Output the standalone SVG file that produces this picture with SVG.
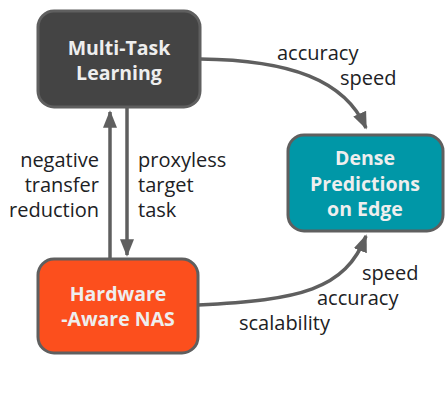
<svg xmlns="http://www.w3.org/2000/svg" width="445" height="402" viewBox="0 0 445 402">
<defs>
<marker id="ah" viewBox="0 0 10 10" refX="9" refY="5" markerWidth="5" markerHeight="5" markerUnits="strokeWidth" orient="auto">
<path d="M0,1 L10,5 L0,9 z" fill="#5f5f5f"/>
</marker>
<style>
.node{stroke:#5f5f5f;stroke-width:3}
.nt{font-family:"Open Sans","Liberation Sans",sans-serif;font-weight:bold;font-size:19.5px;fill:#eeeeee;text-anchor:middle}
.lb{font-family:"Open Sans","Liberation Sans",sans-serif;font-size:20px;fill:#202124}
.edge{fill:none;stroke:#5f5f5f;stroke-width:3.5;marker-end:url(#ah)}
</style>
</defs>
<rect width="445" height="402" fill="#ffffff"/>
<g id="connectors">
<path class="edge" d="M200,59 C290,60 345,80 366,128"/>
<path class="edge" d="M198,305 C300,300 345,290 366,236"/>
<path class="edge" d="M110,258 L110,112"/>
<path class="edge" d="M127,108 L127,255"/>
</g>
<g id="multitask">
<rect class="node" x="38" y="11" width="162" height="96" rx="16" fill="#444444"/>
<text class="nt" x="119" y="55">Multi-Task</text>
<text class="nt" x="119" y="80">Learning</text>
</g>
<g id="dense">
<rect class="node" x="288" y="135" width="155" height="96" rx="16" fill="#0097a7"/>
<text class="nt" x="365" y="165">Dense</text>
<text class="nt" x="365" y="191">Predictions</text>
<text class="nt" x="365" y="216">on Edge</text>
</g>
<g id="hardware">
<rect class="node" x="38" y="259" width="160" height="94" rx="16" fill="#fc4f1d"/>
<text class="nt" x="118" y="301">Hardware</text>
<text class="nt" x="118" y="326">-Aware NAS</text>
</g>
<g id="labels">
<text class="lb" x="277" y="60">accuracy</text>
<text class="lb" x="340" y="85">speed</text>
<text class="lb" x="99" y="167" text-anchor="end">negative</text>
<text class="lb" x="99" y="192" text-anchor="end">transfer</text>
<text class="lb" x="99" y="217" text-anchor="end">reduction</text>
<text class="lb" x="138" y="167">proxyless</text>
<text class="lb" x="138" y="192">target</text>
<text class="lb" x="138" y="217">task</text>
<text class="lb" x="362" y="280">speed</text>
<text class="lb" x="317" y="305">accuracy</text>
<text class="lb" x="239" y="330">scalability</text>
</g>
</svg>
